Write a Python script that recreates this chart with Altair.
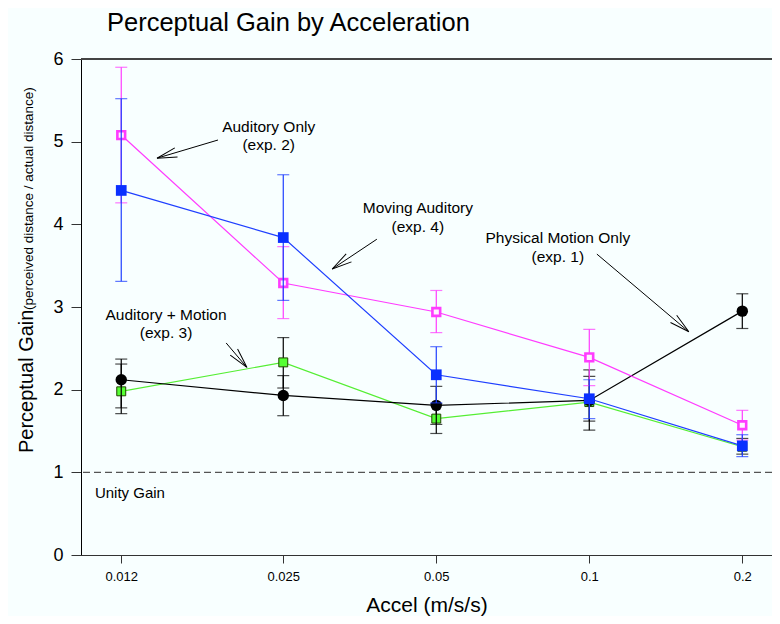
import math
import altair as alt
import pandas as pd

# ---------------- data ----------------
accel = [0.012, 0.025, 0.05, 0.1, 0.2]

black_gain = [2.12, 1.93, 1.81, 1.87, 2.95]   # Physical Motion Only (exp. 1)
black_lo = [1.71, 1.685, 1.58, 1.51, 2.74]
black_hi = [2.37, 2.17, 2.04, 2.24, 3.16]

pink_gain = [5.08, 3.29, 2.94, 2.39, 1.57]    # Auditory Only (exp. 2)
pink_lo = [4.26, 2.86, 2.69, 2.05, 1.39]
pink_hi = [5.90, 3.73, 3.20, 2.73, 1.75]

green_gain = [1.98, 2.33, 1.65, 1.85, 1.31]   # Auditory + Motion (exp. 3)
green_lo = [1.78, 2.02, 1.47, 1.62, 1.22]
green_hi = [2.31, 2.63, 1.83, 2.16, 1.41]

blue_gain = [4.41, 3.84, 2.18, 1.89, 1.32]    # Moving Auditory (exp. 4)
blue_lo = [3.31, 3.08, 1.84, 1.65, 1.19]
blue_hi = [5.52, 4.60, 2.52, 2.12, 1.455]

y_ticks = [0, 1, 2, 3, 4, 5, 6]

# annotation text lines (data coordinates)
ann_text = ["Auditory Only", "(exp. 2)", "Moving Auditory", "(exp. 4)",
            "Physical Motion Only", "(exp. 1)", "Auditory + Motion", "(exp. 3)"]
ann_x = [0.0234, 0.0234, 0.046, 0.046, 0.0867, 0.0867, 0.0147, 0.0147]
ann_y = [5.18, 4.96, 4.20, 3.97, 3.83, 3.60, 2.90, 2.69]

# arrows: tail -> tip (data coordinates)
arr_x1 = [0.0186, 0.0382, 0.1035, 0.0193]
arr_y1 = [5.02, 3.82, 3.64, 2.565]
arr_x2 = [0.01411, 0.0312, 0.157, 0.0212]
arr_y2 = [4.80, 3.46, 2.70, 2.27]

# ---------------- layout ----------------
W, H = 691, 496
XD = [0.01, 0.2288]
YD = [0, 6]
FONT = "Liberation Sans, Arial, sans-serif"


def px(a):
    return W * math.log(a / XD[0]) / math.log(XD[1] / XD[0])


def py(g):
    return H * (1 - (g - YD[0]) / (YD[1] - YD[0]))


xscale = alt.Scale(type="log", domain=XD, nice=False)
yscale = alt.Scale(domain=YD, nice=False, zero=False)

xaxis = alt.Axis(values=accel, format="~g", title="Accel (m/s/s)", grid=False,
                 labelFontSize=13, labelFont=FONT, labelColor="black",
                 titleFontSize=21, titleFont=FONT, titleFontWeight="normal",
                 titleColor="black", titlePadding=11, tickSize=8,
                 tickColor="#333", domainColor="#333", labelPadding=7,
                 labelFlush=False)
yaxis = alt.Axis(values=y_ticks, format="d", title=None, grid=False, labelFontSize=18,
                 labelFont=FONT, labelColor="black", tickSize=10,
                 tickColor="#333", domainColor="black", labelPadding=8)

X = alt.X("accel:Q", scale=xscale, axis=xaxis)


def series_df(g, lo, hi):
    return pd.DataFrame({"accel": accel, "gain": g, "lo": lo, "hi": hi})


layers = []

# unity gain dashed line
unity = alt.Chart(pd.DataFrame({"g": [1]})).mark_rule(
    color="#555", strokeDash=[7, 4], strokeWidth=1.3
).encode(y=alt.Y("g:Q", scale=yscale, axis=yaxis))
layers.append(unity)

# top frame line
top = alt.Chart(pd.DataFrame({"g": [6]})).mark_rule(
    color="#444", strokeWidth=2
).encode(y=alt.Y("g:Q"))
layers.append(top)

series = [
    (green_gain, green_lo, green_hi, "#55ee33", "black", "green"),
    (black_gain, black_lo, black_hi, "black", "black", "black"),
    (pink_gain, pink_lo, pink_hi, "#ff3cff", "#ff3cff", "pink"),
    (blue_gain, blue_lo, blue_hi, "#1f3fff", "#1f3fff", "blue"),
]

for g, lo, hi, lc, ec, kind in series:
    df = series_df(g, lo, hi)
    base = alt.Chart(df)
    line = base.mark_line(color=lc, strokeWidth=1.2).encode(x=X, y=alt.Y("gain:Q"))
    err = base.mark_rule(color=ec, strokeWidth=1.2).encode(x=X, y="lo:Q", y2="hi:Q")
    cap_lo = base.mark_tick(color=ec, orient="horizontal", size=12, thickness=1.2).encode(x=X, y="lo:Q")
    cap_hi = base.mark_tick(color=ec, orient="horizontal", size=12, thickness=1.2).encode(x=X, y="hi:Q")
    if kind == "black":
        pt = base.mark_circle(size=130, color="black", opacity=1).encode(x=X, y="gain:Q")
    elif kind == "pink":
        pt = base.mark_point(shape="square", filled=True, fill="#fff4ff", stroke="#ff3cff",
                             strokeWidth=2.6, size=60, opacity=1).encode(x=X, y="gain:Q")
    elif kind == "blue":
        pt = base.mark_square(size=115, color="#0a30ff", opacity=1).encode(x=X, y="gain:Q")
    else:
        pt = base.mark_point(shape="square", filled=True, fill="#55ff33", stroke="#224400",
                             strokeWidth=1, size=80, opacity=1).encode(x=X, y="gain:Q")
    layers += [line, err, cap_lo, cap_hi, pt]

# annotations
ann_df = pd.DataFrame({"t": ann_text, "accel": ann_x, "gain": ann_y})
ann = alt.Chart(ann_df).mark_text(font=FONT, fontSize=15.5, color="black",
                                  align="center", baseline="middle").encode(
    x=X, y="gain:Q", text="t:N")
layers.append(ann)

unity_df = pd.DataFrame({"t": ["Unity Gain"], "accel": [0.01065], "gain": [0.75]})
unity_txt = alt.Chart(unity_df).mark_text(font=FONT, fontSize=15, color="black",
                                          align="left", baseline="middle").encode(
    x=X, y="gain:Q", text="t:N")
layers.append(unity_txt)

ang = []
for a1, g1, a2, g2 in zip(arr_x1, arr_y1, arr_x2, arr_y2):
    d = math.degrees(math.atan2(py(g2) - py(g1), px(a2) - px(a1))) % 360
    ang.append(d)
arr_df = pd.DataFrame({"accel": arr_x1, "gain": arr_y1, "a2": arr_x2, "g2": arr_y2,
                       "ang": ang})
shaft = alt.Chart(arr_df).mark_rule(color="black", strokeWidth=1).encode(
    x=X, y="gain:Q", x2="a2:Q", y2="g2:Q")
heads = alt.Chart(arr_df).mark_point(
    shape="M -1 -0.24 L 0 0 L -1 0.24", filled=False, stroke="black",
    strokeWidth=1, size=1600, opacity=1
).encode(x=alt.X("a2:Q", scale=xscale), y="g2:Q", angle=alt.Angle("ang:Q", scale=None))
layers += [shaft, heads]

# y axis title (mixed font sizes)
yt1 = alt.Chart(pd.DataFrame({"t": ["Perceptual Gain"]})).mark_text(
    font=FONT, fontSize=20, color="black", angle=270, align="left",
    baseline="alphabetic").encode(x=alt.value(-48), y=alt.value(394), text="t:N")
yt2 = alt.Chart(pd.DataFrame({"t": ["(perceived distance / actual distance)"]})).mark_text(
    font=FONT, fontSize=13.5, color="black", angle=270, align="left",
    baseline="alphabetic").encode(x=alt.value(-48), y=alt.value(251), text="t:N")
title = alt.Chart(pd.DataFrame({"t": ["Perceptual Gain by Acceleration"]})).mark_text(
    font=FONT, fontSize=25.5, color="black", align="left",
    baseline="alphabetic").encode(x=alt.value(26), y=alt.value(-28), text="t:N")
layers += [yt1, yt2, title]

chart = alt.layer(*layers).properties(
    width=W, height=H,
    autosize=alt.AutoSizeParams(type="none"),
    padding={"left": 73, "top": 51, "right": 0, "bottom": 61},
    background="#f8ffff",
).configure_view(stroke=None)

chart.save("out.html", embed_options={"renderer": "svg", "actions": False})
